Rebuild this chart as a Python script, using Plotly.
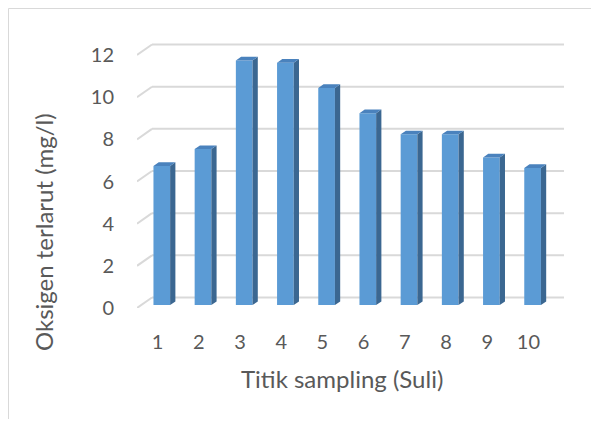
import plotly.graph_objects as go

# ---- data ----
categories = [1, 2, 3, 4, 5, 6, 7, 8, 9, 10]
category_labels = ["1", "2", "3", "4", "5", "6", "7", "8", "9", "10"]
oksigen = [6.6, 7.4, 11.6, 11.5, 10.3, 9.1, 8.1, 8.1, 7.0, 6.5]
y_ticks = [0, 2, 4, 6, 8, 10, 12]

x_title = "Titik sampling (Suli)"
y_title = "Oksigen terlarut (mg/l)"

# ---- geometry (pseudo 3-D, in data units) ----
OFF = 8                          # page body margin
W, H = 599 - 2 * OFF, 427 - 2 * OFF
L, R, T, B = 137 - OFF, 25, 42 - OFF, 427 - 308 - OFF
PW, PH = W - L - R, H - T - B
UX, UY = 41.2, 21.08            # pixels per category / per unit
XR = [0.5, 0.5 + PW / UX]
YR = [0, PH / UY]
DX, DY = 15 / UX, 10.5 / UY     # full floor depth offset (back wall)
F = 0.28                        # bar front depth fraction
S = 0.35                        # bar depth fraction
BW = 0.405                      # bar width (category units)

FRONT = "#5B9BD5"
SIDE = "#3B6791"
TOP = "#4A82BD"
GRID = "#D9D9D9"
TXT = "#595959"
FONT = "Lato"


def px(xr):   # reference x pixel -> paper
    return (xr - OFF - L) / PW


def py(yr):   # reference y pixel -> paper
    return (H - B - (yr - OFF)) / PH


fig = go.Figure()

base = F * DY
fig.add_trace(go.Bar(
    x=[c + F * DX for c in categories], y=oksigen, base=base, width=BW,
    marker=dict(color=FRONT, line=dict(width=0)), hoverinfo="skip",
))

side_x, side_y, top_x, top_y = [], [], [], []
for c, v in zip(categories, oksigen):
    xc = c + F * DX
    xl, xr = xc - BW / 2, xc + BW / 2
    yb, yt = base, base + v
    side_x += [xr, xr, xr + S * DX, xr + S * DX, xr, None]
    side_y += [yb, yt, yt + S * DY, yb + S * DY, yb, None]
    top_x += [xl, xr, xr + S * DX, xl + S * DX, xl, None]
    top_y += [yt, yt, yt + S * DY, yt + S * DY, yt, None]

fig.add_trace(go.Scatter(x=side_x, y=side_y, fill="toself", fillcolor=SIDE,
                         mode="lines", line=dict(width=0, color=SIDE), hoverinfo="skip"))
fig.add_trace(go.Scatter(x=top_x, y=top_y, fill="toself", fillcolor=TOP,
                         mode="lines", line=dict(width=0, color=TOP), hoverinfo="skip"))

shapes = []
for v in y_ticks:
    shapes.append(dict(type="line", xref="x", yref="y", layer="below",
                       x0=0.5, y0=v, x1=0.5 + DX, y1=v + DY,
                       line=dict(color=GRID, width=2)))
    shapes.append(dict(type="line", xref="x", yref="y", layer="below",
                       x0=0.5 + DX, y0=v + DY, x1=10.5 + DX, y1=v + DY,
                       line=dict(color=GRID, width=2)))
# chart border
shapes.append(dict(type="rect", xref="paper", yref="paper", layer="below",
                   x0=px(8.5), y1=py(8.5), x1=2, y0=-2,
                   line=dict(color=GRID, width=1), fillcolor="rgba(0,0,0,0)"))

fig.update_layout(
    width=W, height=H,
    margin=dict(l=L, r=R, t=T, b=B, pad=0),
    paper_bgcolor="white", plot_bgcolor="white",
    showlegend=False,
    shapes=shapes,
    xaxis=dict(range=XR, tickvals=categories, ticktext=category_labels,
               showgrid=False, zeroline=False, showline=False,
               ticks="", ticklabelstandoff=20,
               tickfont=dict(family=FONT, size=20, color=TXT), fixedrange=True),
    yaxis=dict(range=YR, tickvals=y_ticks, showgrid=False, zeroline=False,
               showline=False, ticks="", ticklabelstandoff=22,
               tickfont=dict(family=FONT, size=20, color=TXT), fixedrange=True),
    annotations=[
        dict(text=x_title, xref="paper", yref="paper",
             x=px(342), y=py(378), xanchor="center", yanchor="middle",
             showarrow=False, font=dict(family=FONT, size=24, color=TXT)),
        dict(text=y_title, xref="paper", yref="paper", textangle=-90,
             x=px(43), y=py(232), xanchor="center", yanchor="middle",
             showarrow=False, font=dict(family=FONT, size=24, color=TXT)),
    ],
)

fig.write_html("out.html")
